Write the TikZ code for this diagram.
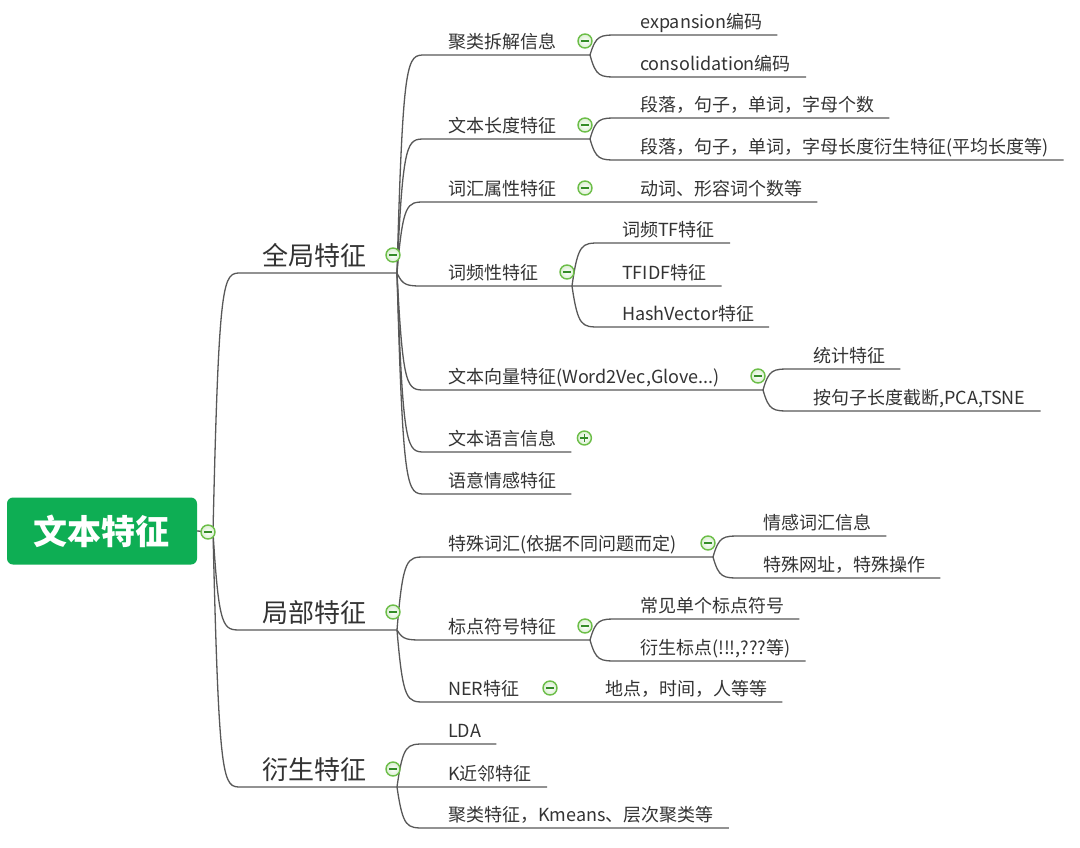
\documentclass[tikz,border=0pt]{standalone}
\usepackage{fontspec}
\setmainfont{Noto Sans CJK SC}
\usepackage{tikz}
\usetikzlibrary{calc}
\definecolor{VerdeRaiz}{RGB}{14,174,84}
\definecolor{VerdeSigno}{RGB}{108,190,72}
\definecolor{VerdeOscuro}{RGB}{52,140,40}
\definecolor{GrisLinea}{RGB}{88,88,88}
\definecolor{GrisTexto}{RGB}{51,51,51}
\tikzset{
  link/.style={draw=GrisLinea,line width=1.3pt},
  rama/.style={to path={.. controls ($(\tikztostart|-\tikztotarget)+(6,0)$) and ($(\tikztostart|-\tikztotarget)+(10,0)$) .. ($(\tikztostart|-\tikztotarget)+(28,0)$) -- (\tikztotarget)}},
  tema/.style={anchor=base west,inner sep=0pt,text=GrisTexto,font=\fontsize{18}{20}\selectfont},
  tema1/.style={tema,font=\fontsize{26}{28}\selectfont},
  raiz/.style={fill=VerdeRaiz,rounded corners=6pt,minimum width=190pt,minimum height=67pt,text=white,font=\fontsize{34}{36}\selectfont\bfseries},
  signo/.style={circle,draw=VerdeSigno,line width=1.4pt,inner color=white,outer color=VerdeSigno!25,minimum size=14pt,inner sep=0pt},
  menos/.style={signo,path picture={\draw[VerdeOscuro,line width=1.3pt] ($(path picture bounding box.center)+(-4,0)$) -- ($(path picture bounding box.center)+(4,0)$);}},
  mas/.style={signo,path picture={\draw[VerdeOscuro,line width=1.3pt] ($(path picture bounding box.center)+(-4,0)$) -- ($(path picture bounding box.center)+(4,0)$) ($(path picture bounding box.center)+(0,-4)$) -- ($(path picture bounding box.center)+(0,4)$);}}
}
\begin{document}
\begin{tikzpicture}[x=1pt,y=-1pt]
  \fill[white] (0,0) rectangle (1080,847);
  \useasboundingbox (0,0) rectangle (1080,847);

  \node[raiz] (raiz) at (102,531) {文本特征};
  \coordinate (raiz-j) at (213,532);

  \node[tema1] (gl) at (262,265) {全局特征};
  \coordinate (gl-j) at (397,273);
  \node[tema1] (jb) at (262,622) {局部特征};
  \coordinate (jb-j) at (397,630);
  \node[tema1] (ys) at (262,779) {衍生特征};
  \coordinate (ys-j) at (397,787);

  \node[tema] (jl) at (448,48) {聚类拆解信息};
  \coordinate (jl-j) at (590,55);
  \node[tema] (cd) at (448,132) {文本长度特征};
  \coordinate (cd-j) at (590,139);
  \node[tema] (ch) at (448,195) {词汇属性特征};
  \coordinate (ch-j) at (590,202);
  \node[tema] (cp) at (448,279) {词频性特征};
  \coordinate (cp-j) at (572,286);
  \node[tema] (xl) at (448,383) {文本向量特征(Word2Vec,Glove...)};
  \coordinate (xl-j) at (763,390);
  \node[tema] (yy) at (448,445) {文本语言信息};
  \node[tema] (qg) at (448,487) {语意情感特征};

  \node[tema] (ts) at (448,550) {特殊词汇(依据不同问题而定)};
  \coordinate (ts-j) at (713,557);
  \node[tema] (bd) at (448,633) {标点符号特征};
  \coordinate (bd-j) at (590,640);
  \node[tema] (ner) at (448,695) {NER特征};
  \coordinate (ner-j) at (555,702);

  \node[tema] (lda) at (448,737) {LDA};
  \node[tema] (knn) at (448,780) {K近邻特征};
  \node[tema] (jt) at (448,821) {聚类特征，Kmeans、层次聚类等};

  \node[tema] (exp) at (640,28) {expansion编码};
  \node[tema] (con) at (640,70) {consolidation编码};
  \node[tema] (gs) at (640,111) {段落，句子，单词，字母个数};
  \node[tema] (pj) at (640,153) {段落，句子，单词，字母长度衍生特征(平均长度等)};
  \node[tema] (dc) at (640,195) {动词、形容词个数等};
  \node[tema] (tf) at (622,236) {词频TF特征};
  \node[tema] (tfidf) at (622,279) {TFIDF特征};
  \node[tema] (hv) at (622,320) {HashVector特征};
  \node[tema] (tj) at (813,362) {统计特征};
  \node[tema] (jd) at (813,404) {按句子长度截断,PCA,TSNE};
  \node[tema] (qc) at (763,529) {情感词汇信息};
  \node[tema] (tw) at (763,571) {特殊网址，特殊操作};
  \node[tema] (cj) at (640,612) {常见单个标点符号};
  \node[tema] (yb) at (640,654) {衍生标点(!!!,???等)};
  \node[tema] (dd) at (605,695) {地点，时间，人等等};

  \foreach \n in {yy,qg,lda,knn,jt,exp,con,gs,pj,dc,tf,tfidf,hv,tj,jd,qc,tw,cj,yb,dd}
    \coordinate (\n-x) at ($(\n.base east)+(15,7)$);
  \foreach \n in {yy,qg,lda,jt,exp,con,gs,pj,tf,hv,tj,jd,qc,tw,cj,yb}
    \coordinate (\n-e) at (\n-x);
  % hojas en la misma linea que su rama
  \foreach \n/\j in {dc/ch-j,tfidf/cp-j,dd/ner-j,knn/ys-j}
    \coordinate (\n-e) at (\n-x |- \j);

  \draw[link] (raiz.east) -- (raiz-j);
  \foreach \a/\b in {raiz-j/gl-j,raiz-j/jb-j,raiz-j/knn-e,
      gl-j/jl-j,gl-j/cd-j,gl-j/dc-e,gl-j/tfidf-e,gl-j/xl-j,gl-j/yy-e,gl-j/qg-e,
      jb-j/ts-j,jb-j/bd-j,jb-j/dd-e,ys-j/lda-e,ys-j/jt-e,
      jl-j/exp-e,jl-j/con-e,cd-j/gs-e,cd-j/pj-e,
      cp-j/tf-e,cp-j/hv-e,xl-j/tj-e,xl-j/jd-e,
      ts-j/qc-e,ts-j/tw-e,bd-j/cj-e,bd-j/yb-e}
    \draw[link] (\a) to[rama] (\b);

  \node[menos] (raiz-s) at ($(raiz-j)+(-5,0)$) {};
  \foreach \j in {gl,jb,ys}
    \node[menos] (\j-s) at ($(\j-j)+(-4,-18)$) {};
  \foreach \j in {jl,cd,ch,cp,xl,ts,bd,ner}
    \node[menos] (\j-s) at ($(\j-j)+(-5,-14)$) {};
  \node[mas] (yy-s) at ($(yy.base east)+(28,-7)$) {};
\end{tikzpicture}
\end{document}
